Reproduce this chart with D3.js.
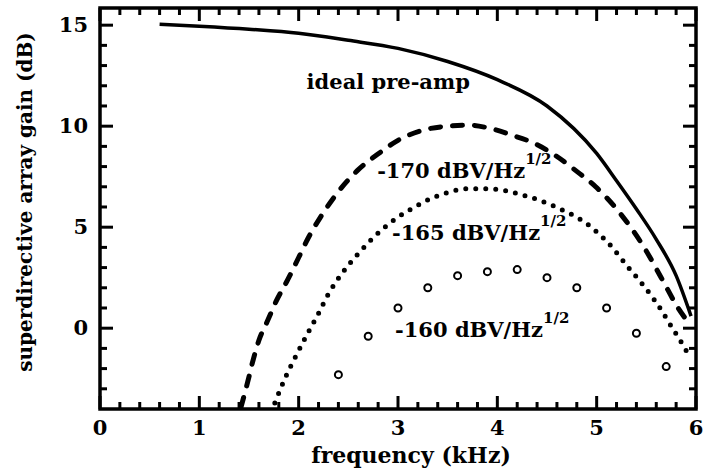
<!DOCTYPE html>
<html>
<head>
<meta charset="utf-8">
<script src="https://cdn.jsdelivr.net/npm/d3@7"></script>
<style>
  body { margin: 0; background: #fff; }
  text { font-family: "DejaVu Serif", serif; font-weight: bold; fill: #000; }
</style>
</head>
<body>
<svg id="chart" width="710" height="471"></svg>
<script>
// ideal pre-amp (solid)
const idealFreq = [0.6, 1.0, 1.5, 2.0, 2.5, 3.0, 3.5, 4.0, 4.5, 5.0, 5.2, 5.4, 5.6, 5.8, 5.95];
const idealGain = [15.05, 14.95, 14.8, 14.6, 14.25, 13.85, 13.2, 12.3, 11.0, 8.65, 7.3, 5.9, 4.4, 2.6, 0.6];

// -170 dBV/Hz^1/2 (dashed)
const n170Freq = [1.42, 1.49, 1.54, 1.6, 1.69, 1.77, 1.89, 2.0, 2.1, 2.22, 2.39, 2.59, 2.82, 3.0, 3.25, 3.5, 3.72, 3.92, 4.15, 4.35, 4.6, 4.79, 4.99, 5.2, 5.49, 5.65, 5.82, 5.92];
const n170Gain = [-3.9, -2.6, -1.6, -0.6, 0.4, 1.3, 2.4, 3.5, 4.5, 5.5, 6.7, 7.8, 8.7, 9.3, 9.8, 10.0, 10.05, 9.9, 9.55, 9.2, 8.5, 7.8, 7.0, 5.9, 3.9, 2.5, 1.0, 0.3];

// -165 dBV/Hz^1/2 (dotted)
const n165Freq = [1.76, 1.87, 1.97, 2.08, 2.19, 2.3, 2.45, 2.62, 2.82, 3.0, 3.15, 3.28, 3.49, 3.7, 3.92, 4.25, 4.59, 4.92, 5.12, 5.32, 5.49, 5.65, 5.75, 5.84, 5.9, 5.95];
const n165Gain = [-3.7, -2.4, -1.4, -0.35, 0.64, 1.7, 2.8, 3.8, 4.8, 5.5, 5.95, 6.3, 6.7, 6.9, 6.9, 6.6, 6.0, 5.1, 4.2, 3.0, 2.0, 0.9, 0.1, -0.6, -1.1, -1.5];

// -160 dBV/Hz^1/2 (open circles)
const n160Freq = [2.4, 2.7, 3.0, 3.3, 3.6, 3.9, 4.2, 4.5, 4.8, 5.1, 5.4, 5.7];
const n160Gain = [-2.3, -0.4, 1.0, 2.0, 2.6, 2.8, 2.9, 2.5, 2.0, 1.0, -0.25, -1.9];

const xMajor = [0, 1, 2, 3, 4, 5, 6];
const xMinor = d3.range(0, 31).map(i => i / 5).filter(v => !xMajor.includes(v));
const yMajor = [0, 5, 10, 15];
const yMinor = [-3, -2, -1, 1, 2, 3, 4, 6, 7, 8, 9, 11, 12, 13, 14];

// label anchors in data units
const labels = [
    {text: "ideal pre-amp", f: 2.08, g: 11.84, sup: null},
    {text: "-170 dBV/Hz", f: 2.79, g: 7.43, sup: "1/2"},
    {text: "-165 dBV/Hz", f: 2.94, g: 4.36, sup: "1/2"},
    {text: "-160 dBV/Hz", f: 2.97, g: -0.44, sup: "1/2"}
];

const svg = d3.select("#chart");
const plotL = 100, plotR = 696, plotT = 8, plotB = 409;

const xScale = d3.scaleLinear().domain([0, 6]).range([plotL, plotR]);
const yScale = d3.scaleLinear().domain([-4, 15.85]).range([plotB, plotT]);

// curves
const curve = d3.line()
    .x(d => xScale(d[0]))
    .y(d => yScale(d[1]))
    .curve(d3.curveMonotoneX);

const plot = svg.append("g");

plot.append("path")
    .datum(d3.zip(idealFreq, idealGain))
    .attr("d", curve)
    .attr("fill", "none").attr("stroke", "#000").attr("stroke-width", 3.5);

plot.append("path")
    .datum(d3.zip(n170Freq, n170Gain))
    .attr("d", curve)
    .attr("fill", "none").attr("stroke", "#000").attr("stroke-width", 5)
    .attr("stroke-linecap", "round")
    .attr("stroke-dasharray", "10,12");

plot.append("path")
    .datum(d3.zip(n165Freq, n165Gain))
    .attr("d", curve)
    .attr("fill", "none").attr("stroke", "#000").attr("stroke-width", 5)
    .attr("stroke-linecap", "round")
    .attr("stroke-dasharray", "0,10");

plot.selectAll("circle.p160")
    .data(d3.zip(n160Freq, n160Gain))
    .enter()
    .append("circle")
    .attr("class", "p160")
    .attr("cx", d => xScale(d[0]))
    .attr("cy", d => yScale(d[1]))
    .attr("r", 3.5)
    .attr("fill", "#fff").attr("stroke", "#000").attr("stroke-width", 2);

// curve labels
labels.forEach(l => {
    let t = svg.append("text")
        .attr("x", xScale(l.f)).attr("y", yScale(l.g))
        .attr("font-size", 21)
        .text(l.text);
    if (l.sup) {
        t.append("tspan")
            .attr("font-size", 15)
            .attr("dy", -14)
            .text(l.sup);
    }
});

// frame
svg.append("rect")
    .attr("x", plotL).attr("y", plotT)
    .attr("width", plotR - plotL).attr("height", plotB - plotT)
    .attr("fill", "none").attr("stroke", "#000").attr("stroke-width", 3.5);

// inward ticks on all four sides
const ticks = svg.append("g").attr("class", "ticks");

function xTicks(vals, len, y0, dir) {
    ticks.append("g").selectAll("line")
        .data(vals)
        .join("line")
        .attr("x1", d => xScale(d)).attr("x2", d => xScale(d))
        .attr("y1", y0).attr("y2", y0 + dir * len)
        .attr("stroke", "#000").attr("stroke-width", 3);
}
function yTicks(vals, len, x0, dir) {
    ticks.append("g").selectAll("line")
        .data(vals)
        .join("line")
        .attr("y1", d => yScale(d)).attr("y2", d => yScale(d))
        .attr("x1", x0).attr("x2", x0 + dir * len)
        .attr("stroke", "#000").attr("stroke-width", 3);
}
xTicks(xMinor, 7, plotB, -1);
xTicks(xMajor, 13, plotB, -1);
xTicks(xMinor, 7, plotT, 1);
xTicks(xMajor, 13, plotT, 1);
yTicks(yMinor, 7, plotL, 1);
yTicks(yMajor, 13, plotL, 1);
yTicks(yMinor, 7, plotR, -1);
yTicks(yMajor, 13, plotR, -1);

// tick labels
svg.append("g").selectAll("text")
    .data(xMajor)
    .join("text")
    .attr("x", d => xScale(d)).attr("y", plotB + 26)
    .attr("text-anchor", "middle")
    .attr("font-size", 21)
    .text(d => d);

svg.append("g").selectAll("text")
    .data(yMajor)
    .join("text")
    .attr("x", plotL - 12).attr("y", d => yScale(d) + 7)
    .attr("text-anchor", "end")
    .attr("font-size", 21)
    .text(d => d);

// axis titles
svg.append("text")
    .attr("x", 411).attr("y", 463)
    .attr("text-anchor", "middle")
    .attr("font-size", 22)
    .text("frequency (kHz)");

svg.append("text")
    .attr("transform", "translate(32,202) rotate(-90)")
    .attr("text-anchor", "middle")
    .attr("font-size", 20)
    .text("superdirective array gain (dB)");
</script>
</body>
</html>
